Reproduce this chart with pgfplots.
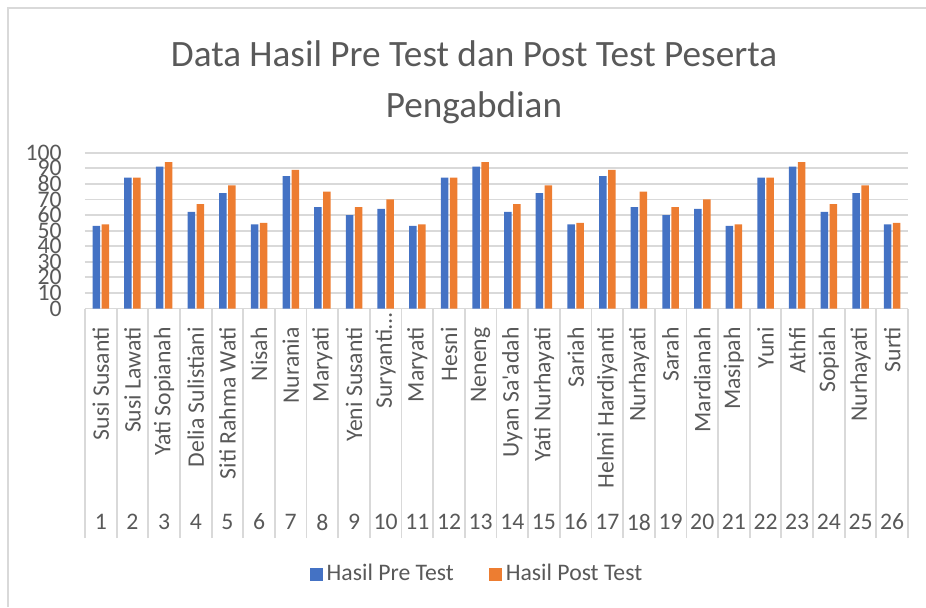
\documentclass[border=0pt]{standalone}
\usepackage{pgfplots}
\pgfplotsset{compat=1.18}
\usepackage{fontspec}
\setmainfont{Carlito}
\definecolor{pre}{HTML}{4472C4}
\definecolor{post}{HTML}{ED7D31}
\definecolor{txt}{HTML}{595959}
\definecolor{grd}{HTML}{D9D9D9}
\newcommand{\lbl}{\fontsize{11.85pt}{14pt}\selectfont}
\begin{document}
\begin{tikzpicture}
\path[use as bounding box] (0,0) rectangle (463pt,-303.5pt);
\draw[grd, line width=1pt] (4pt,-303.5pt) -- (4pt,-4pt) -- (463pt,-4pt);
\node[anchor=base, text=txt, font=\fontsize{18.6pt}{22pt}\selectfont, inner sep=0pt] at (237pt,-33.35pt) {Data Hasil Pre Test dan Post Test Peserta};
\node[anchor=base, text=txt, font=\fontsize{18.6pt}{22pt}\selectfont, inner sep=0pt] at (237pt,-58.65pt) {Pengabdian};
\begin{axis}[
  at={(42.5pt,-154.25pt)}, anchor=south west,
  scale only axis, width=411.5pt, height=77.9pt,
  ybar=0.75pt, bar width=3.75pt,
  xmin=0.5, xmax=26.5, ymin=0, ymax=100,
  ytick={0,10,...,100},
  ymajorgrids, grid style={grd, line width=0.9pt},
  axis line style={draw=none},
  ytick style={draw=none},
  xtick={1,...,26},
  xticklabels={Susi Susanti, Susi Lawati, Yati Sopianah, Delia Sulistiani, Siti Rahma Wati, Nisah, Nurania, Maryati, Yeni Susanti, {\makebox[0pt][r]{Suryanti…\kern-7.5pt}}, Maryati, Hesni, Neneng, Uyan Sa\textquotesingle adah, Yati Nurhayati, Sariah, Helmi Hardiyanti, Nurhayati, Sarah, Mardianah, Masipah, Yuni, Athfi, Sopiah, Nurhayati, Surti},
  xticklabel style={rotate=90, anchor=east, inner sep=0pt, font=\lbl, text=txt},
  xticklabel shift=9.25pt,
  minor xtick={0.5,1.5,...,26.5},
  xtick pos=bottom, tick align=outside,
  major tick length=0pt,
  major x tick style={draw=none},
  minor x tick style={grd, line width=0.9pt},
  minor tick length=114.75pt,
  yticklabel style={font=\lbl, text=txt, inner sep=0pt, xshift=-11.5pt},
  /pgf/number format/assume math mode=true,
  legend style={at={(0.4775,-1.704)}, anchor=center, draw=none, legend columns=2, font=\lbl, text=txt, inner sep=0pt,
    /tikz/every even column/.append style={column sep=15.5pt}},
  legend image code/.code={\fill[#1] (0pt,-3.25pt) rectangle (6.5pt,3.25pt);},
  clip=false,
]
\addplot[fill=pre, draw=none] coordinates {(1,53) (2,84) (3,91) (4,62) (5,74) (6,54) (7,85) (8,65) (9,60) (10,64) (11,53) (12,84) (13,91) (14,62) (15,74) (16,54) (17,85) (18,65) (19,60) (20,64) (21,53) (22,84) (23,91) (24,62) (25,74) (26,54)};
\addplot[fill=post, draw=none] coordinates {(1,54) (2,84) (3,94) (4,67) (5,79) (6,55) (7,89) (8,75) (9,65) (10,70) (11,54) (12,84) (13,94) (14,67) (15,79) (16,55) (17,89) (18,75) (19,65) (20,70) (21,54) (22,84) (23,94) (24,67) (25,79) (26,55)};
\legend{Hasil Pre Test, Hasil Post Test}
\pgfplotsinvokeforeach{1,...,26}{\node[text=txt, font=\lbl, inner sep=0pt, yshift=-106.75pt] at (axis cs:#1,0) {#1};}
\end{axis}
\end{tikzpicture}
\end{document}
